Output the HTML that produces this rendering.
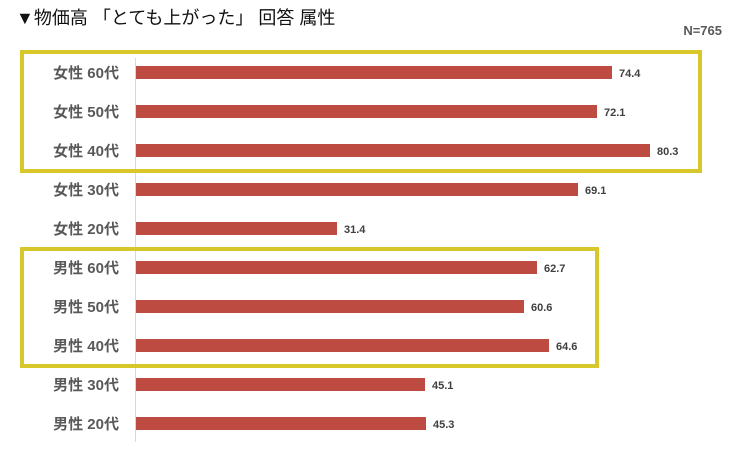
<!DOCTYPE html>
<html><head><meta charset="utf-8"><style>
html,body{margin:0;padding:0;background:#fff;}
svg{display:block;}
</style></head><body>
<svg width="742" height="457" xmlns="http://www.w3.org/2000/svg" font-family="'Liberation Sans','Noto Sans CJK JP',sans-serif">
<text x="16" y="24" font-size="18" fill="#111">▼物価高 「とても上がった」 回答 属性</text>
<text x="722" y="35" font-size="13" font-weight="bold" fill="#595959" text-anchor="end">N=765</text>
<line x1="135.5" y1="58" x2="135.5" y2="442" stroke="#d9d9d9" stroke-width="1"/>
<g fill="#be4b41">
<rect x="136" y="66" width="476" height="13"/>
<rect x="136" y="105" width="461" height="13"/>
<rect x="136" y="144" width="514" height="13"/>
<rect x="136" y="183" width="442" height="13"/>
<rect x="136" y="222" width="201" height="13"/>
<rect x="136" y="261" width="401" height="13"/>
<rect x="136" y="300" width="388" height="13"/>
<rect x="136" y="339" width="413" height="13"/>
<rect x="136" y="378" width="289" height="13"/>
<rect x="136" y="417" width="290" height="13"/>
</g>
<g font-size="11" font-weight="bold" fill="#404040">
<text x="619" y="77">74.4</text>
<text x="604" y="116">72.1</text>
<text x="657" y="155">80.3</text>
<text x="585" y="194">69.1</text>
<text x="344" y="233">31.4</text>
<text x="544" y="272">62.7</text>
<text x="531" y="311">60.6</text>
<text x="556" y="350">64.6</text>
<text x="432" y="389">45.1</text>
<text x="433" y="428">45.3</text>
</g>
<g font-size="15" font-weight="bold" fill="#595959" text-anchor="end">
<text x="119" y="78">女性 60代</text>
<text x="119" y="117">女性 50代</text>
<text x="119" y="156">女性 40代</text>
<text x="119" y="195">女性 30代</text>
<text x="119" y="234">女性 20代</text>
<text x="119" y="273">男性 60代</text>
<text x="119" y="312">男性 50代</text>
<text x="119" y="351">男性 40代</text>
<text x="119" y="390">男性 30代</text>
<text x="119" y="429">男性 20代</text>
</g>
<rect x="22" y="52" width="678" height="119" fill="none" stroke="#d8c72a" stroke-width="4"/>
<rect x="22" y="249" width="575" height="117" fill="none" stroke="#d8c72a" stroke-width="4"/>
</svg>
</body></html>
